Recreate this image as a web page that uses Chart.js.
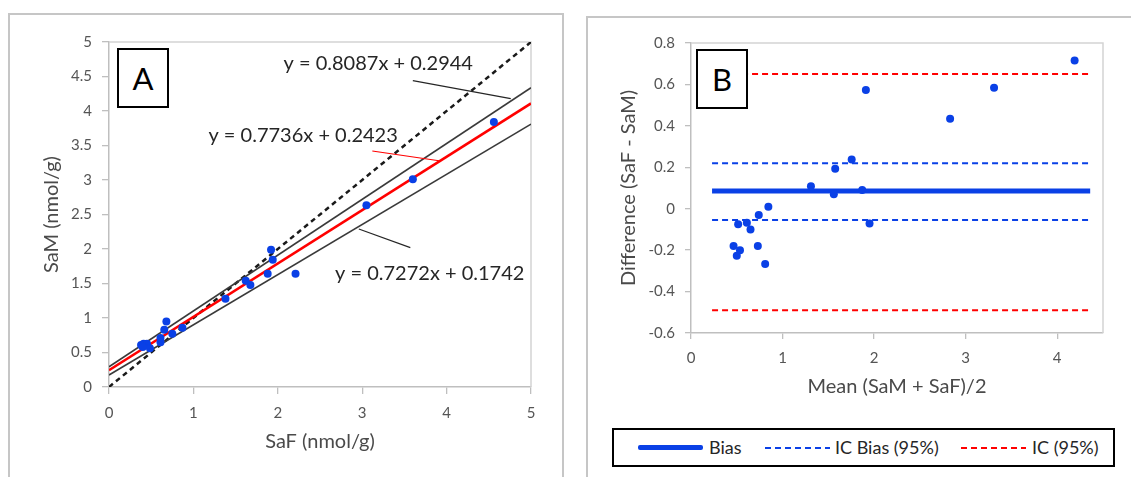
<!DOCTYPE html>
<html>
<head>
<meta charset="utf-8">
<script src="https://cdn.jsdelivr.net/npm/chart.js@4.4.1/dist/chart.umd.min.js"></script>
<style>
html,body{margin:0;padding:0;background:#fff;width:1131px;height:477px;overflow:hidden;font-family:Lato,'Open Sans',sans-serif;}
.panel{position:absolute;border:2px solid #c6c6c6;box-sizing:border-box;}
#pa{left:8px;top:13px;width:556px;height:480px;}
#pb{left:586px;top:16px;width:560px;height:480px;}
canvas{position:absolute;top:0;}
#ca{left:0;}
#cb{left:575px;}
.tag{position:absolute;border:2px solid #000;background:#fff;font-size:31px;color:#000;text-align:center;box-sizing:border-box;z-index:5;}
#ta{left:117px;top:48px;width:52px;height:60px;line-height:56px;}
#tb{left:696px;top:49px;width:52px;height:60px;line-height:56px;}
#leg{position:absolute;left:612px;top:428px;width:503px;height:39px;border:2px solid #000;box-sizing:border-box;z-index:5;background:#fff;}
#leg .sw{position:absolute;}
#leg .tx{position:absolute;top:0;line-height:35px;font-size:18px;color:#262626;white-space:nowrap;}
</style>
</head>
<body>
<div class="panel" id="pa"></div>
<div class="panel" id="pb"></div>
<canvas id="ca" width="575" height="477"></canvas>
<canvas id="cb" width="556" height="477"></canvas>
<div class="tag" id="ta">A</div>
<div class="tag" id="tb">B</div>
<div id="leg"></div>
<script>
// ---------- Panel A data ----------
const safA = [0.38,0.41,0.45,0.40,0.485,0.61,0.61,0.655,0.68,0.75,0.87,1.38,1.62,1.675,1.88,1.92,1.94,2.21,3.05,3.60,4.56];
const samA = [0.61,0.626,0.626,0.58,0.56,0.65,0.71,0.83,0.95,0.77,0.86,1.28,1.54,1.48,1.64,1.99,1.845,1.64,2.635,3.01,3.84];
// regression / identity line end points (x, y)
const lineUpperX = [0, 5];   const lineUpperY = [0.294, 4.338];
const lineFitX   = [0, 5];   const lineFitY   = [0.242, 4.110];
const lineLowerX = [0, 5];   const lineLowerY = [0.174, 3.810];
const identityX  = [0, 5];   const identityY  = [0, 5];
const eqTexts = ['y = 0.8087x + 0.2944', 'y = 0.7736x + 0.2423', 'y = 0.7272x + 0.1742'];
const xTicksA = [0,1,2,3,4,5];
const yTicksA = [0,0.5,1,1.5,2,2.5,3,3.5,4,4.5,5];

// ---------- Panel B data ----------
const meanB = [0.465,0.50,0.535,0.515,0.61,0.65,0.73,0.74,0.81,0.845,1.31,1.56,1.575,1.755,1.87,1.91,1.95,2.83,3.31,4.19];
const diffB = [-0.18,-0.227,-0.20,-0.075,-0.068,-0.10,-0.18,-0.03,-0.267,0.01,0.108,0.07,0.193,0.238,0.09,0.573,-0.071,0.434,0.584,0.716];
const refLineX = [0.23, 4.36];
const biasY = 0.085;
const icBiasHiY = 0.22;
const icBiasLoY = -0.055;
const icHiY = 0.65;
const icLoY = -0.49;
const legendLabels = ['Bias', 'IC Bias (95%)', 'IC (95%)'];
const xTicksB = [0,1,2,3,4];
const yTicksB = [-0.6,-0.4,-0.2,0,0.2,0.4,0.6,0.8];

// ---------- annotation layout (positions, not data) ----------
const annA = {
  texts: [
    {i:0, x:3.19, y:4.69},
    {i:1, x:2.30, y:3.64},
    {i:2, x:3.80, y:1.65}
  ],
  leaders: [
    {x1:3.60, y1:4.44, x2:4.76, y2:4.18, color:'#262626'},
    {x1:3.12, y1:3.42, x2:3.93, y2:3.275, color:'#ff0000'},
    {x1:2.96, y1:2.29, x2:3.57, y2:2.02, color:'#262626'}
  ]
};

const BLUE = '#0a40e6';
const RED = '#ff0000';
const AXIS = '#bfbfbf';
const TICKCOL = '#555555';
const FONT = "Lato, 'Open Sans', sans-serif";

const pairs = (xs, ys) => xs.map((x, k) => ({x, y: ys[k]}));
const fmt = v => String(Math.round(v * 10) / 10);

const framePlugin = {
  id: 'frame',
  beforeDatasetsDraw(chart) {
    const {ctx, chartArea: a} = chart;
    ctx.save();
    ctx.strokeStyle = '#d4d4d4';
    ctx.lineWidth = 1.5;
    ctx.beginPath();
    ctx.moveTo(a.left, a.top); ctx.lineTo(a.right, a.top); ctx.lineTo(a.right, a.bottom);
    ctx.stroke();
    ctx.restore();
  }
};

function lineDs(xs, ys, color, width, dash, order) {
  return {type: 'line', data: pairs(xs, ys), borderColor: color, borderWidth: width,
    borderDash: dash || [], pointRadius: 0, fill: false, tension: 0, order: order};
}

function axis(min, max, ticksList, tl, w, h, title, titleSize) {
  return {
    type: 'linear', min, max,
    afterBuildTicks: s => { s.ticks = ticksList.map(v => ({value: v})); },
    afterFit: s => { if (w !== null) s.width = w; if (h !== null) s.height = h; },
    ticks: {color: TICKCOL, font: {family: FONT, size: 15}, padding: 10, callback: v => fmt(v), autoSkip: false, maxRotation: 0},
    grid: {drawOnChartArea: false, drawTicks: true, tickLength: tl, color: AXIS, tickColor: AXIS, lineWidth: 1.3},
    border: {color: AXIS, width: 1.5},
    title: {display: true, text: title, color: '#4a4a4a', font: {family: FONT, size: titleSize}, padding: {top: 0, bottom: 0}}
  };
}

// ---------- Chart A ----------
const annPluginA = {
  id: 'annA',
  afterDatasetsDraw(chart) {
    const {ctx, scales: {x, y}} = chart;
    ctx.save();
    annA.leaders.forEach(l => {
      ctx.strokeStyle = l.color; ctx.lineWidth = 1.2;
      ctx.beginPath();
      ctx.moveTo(x.getPixelForValue(l.x1), y.getPixelForValue(l.y1));
      ctx.lineTo(x.getPixelForValue(l.x2), y.getPixelForValue(l.y2));
      ctx.stroke();
    });
    ctx.fillStyle = '#262626';
    ctx.font = '20px ' + FONT;
    ctx.textAlign = 'center'; ctx.textBaseline = 'middle';
    annA.texts.forEach(t => ctx.fillText(eqTexts[t.i], x.getPixelForValue(t.x), y.getPixelForValue(t.y)));
    ctx.restore();
  }
};

new Chart(document.getElementById('ca'), {
  type: 'scatter',
  data: {datasets: [
    {data: pairs(safA, samA), backgroundColor: BLUE, borderColor: BLUE, pointRadius: 4, pointBorderWidth: 0, order: 0},
    lineDs(lineFitX, lineFitY, RED, 2.5, null, 1),
    lineDs(lineUpperX, lineUpperY, '#3a3a3a', 1.6, null, 2),
    lineDs(lineLowerX, lineLowerY, '#3a3a3a', 1.6, null, 3),
    lineDs(identityX, identityY, '#1a1a1a', 2.5, [5, 4], 4)
  ]},
  options: {
    responsive: false, animation: false, devicePixelRatio: 1,
    layout: {padding: {left: 40, top: 42, right: 44, bottom: 23}},
    plugins: {legend: {display: false}, tooltip: {enabled: false}},
    scales: {
      x: axis(0, 5, xTicksA, 7, null, 67, 'SaF (nmol/g)', 20),
      y: axis(0, 5, yTicksA, 7, 69, null, 'SaM (nmol/g)', 20)
    }
  },
  plugins: [framePlugin, annPluginA]
});

// ---------- Chart B ----------
new Chart(document.getElementById('cb'), {
  type: 'scatter',
  data: {datasets: [
    {data: pairs(meanB, diffB), backgroundColor: BLUE, borderColor: BLUE, pointRadius: 4, pointBorderWidth: 0, order: 0},
    lineDs(refLineX, [biasY, biasY], BLUE, 5, null, 1),
    lineDs(refLineX, [icBiasHiY, icBiasHiY], BLUE, 2, [6, 4], 2),
    lineDs(refLineX, [icBiasLoY, icBiasLoY], BLUE, 2, [6, 4], 3),
    lineDs(refLineX, [icHiY, icHiY], RED, 2, [6, 4], 4),
    lineDs(refLineX, [icLoY, icLoY], RED, 2, [6, 4], 5)
  ]},
  options: {
    responsive: false, animation: false, devicePixelRatio: 1,
    layout: {padding: {left: 42, top: 43, right: 28, bottom: 78}},
    plugins: {legend: {display: false}, tooltip: {enabled: false}},
    scales: {
      x: axis(0, 4.5, xTicksB, 6, null, 66, 'Mean (SaM + SaF)/2', 20),
      y: axis(-0.6, 0.8, yTicksB, 6, 74, null, 'Difference (SaF - SaM)', 20)
    }
  },
  plugins: [framePlugin]
});

// ---------- HTML legend for B ----------
const leg = document.getElementById('leg');
const legStyles = [
  {sw: 24, tx: 95, css: 'height:5px;border-radius:2px;background:' + BLUE + ';top:15px;'},
  {sw: 151, tx: 221, css: 'height:2px;top:17px;background:repeating-linear-gradient(90deg,' + BLUE + ' 0 6px,transparent 6px 10px);'},
  {sw: 347, tx: 418, css: 'height:2px;top:17px;background:repeating-linear-gradient(90deg,' + RED + ' 0 6px,transparent 6px 10px);'}
];
legendLabels.forEach((lab, k) => {
  const s = document.createElement('div');
  s.className = 'sw';
  s.style.cssText = 'left:' + legStyles[k].sw + 'px;width:65px;' + legStyles[k].css;
  leg.appendChild(s);
  const t = document.createElement('div');
  t.className = 'tx';
  t.style.left = legStyles[k].tx + 'px';
  t.textContent = lab;
  leg.appendChild(t);
});
</script>
</body>
</html>
